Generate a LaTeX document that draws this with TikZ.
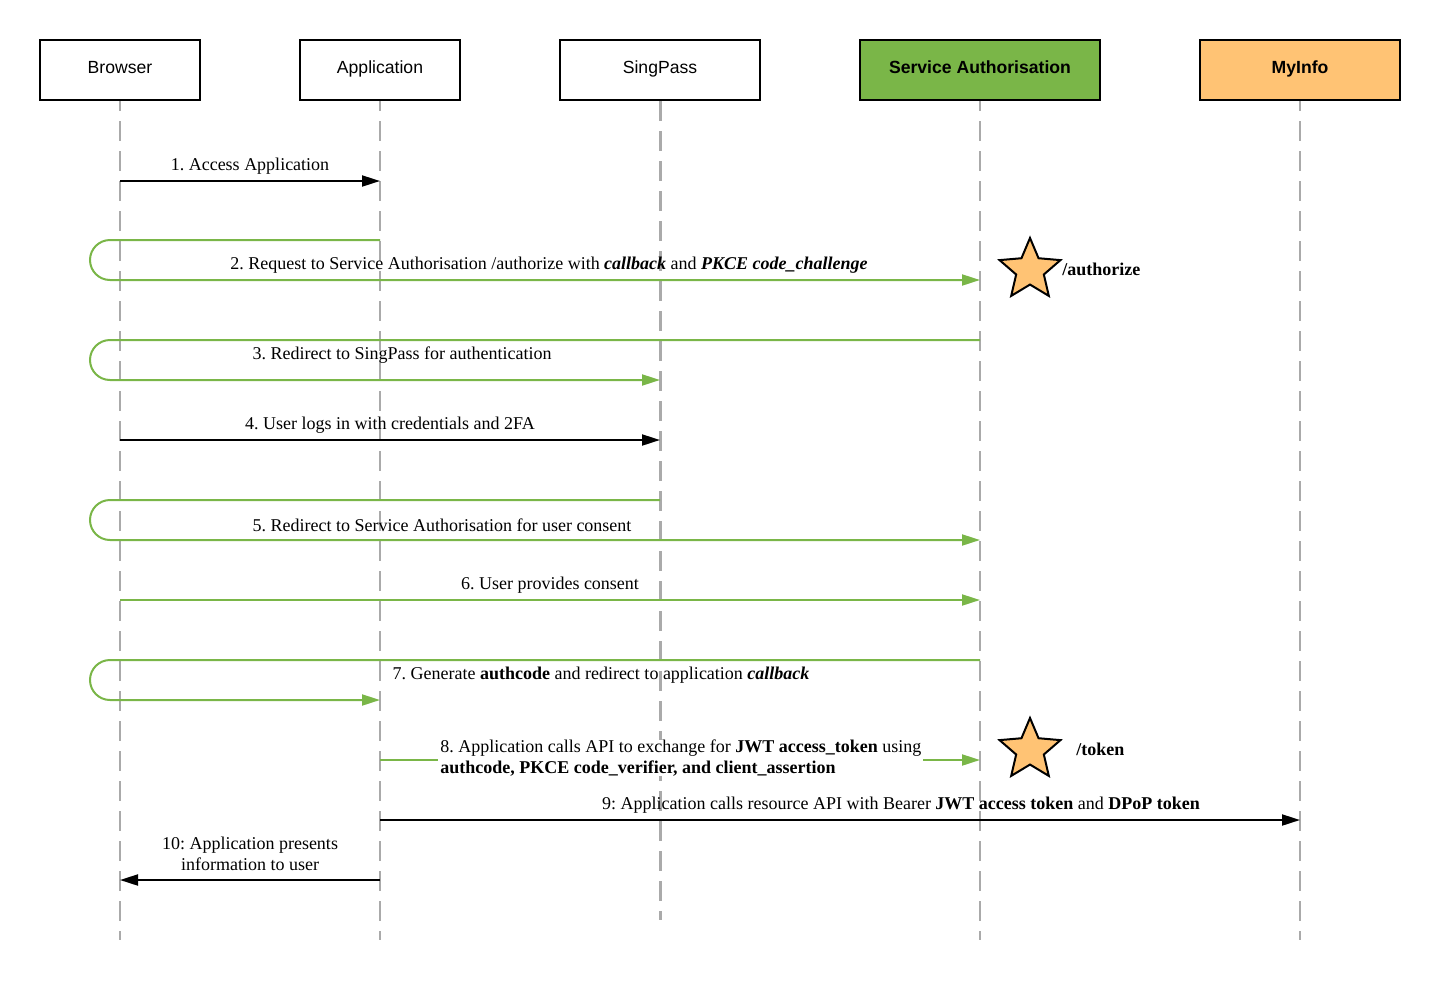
\documentclass[tikz,border=0pt]{standalone}
\usepackage{fontspec}
\setmainfont{Liberation Serif}
\newfontfamily\headfont{Liberation Sans}
\usetikzlibrary{arrows.meta,shapes.geometric}
\definecolor{sagreen}{HTML}{7AB648}
\definecolor{infoorange}{HTML}{FFC374}
\definecolor{lifegray}{HTML}{AAAAAA}
\frenchspacing

\begin{document}
\begin{tikzpicture}[x=0.5pt,y=-0.5pt,
  actor/.style={draw,line width=1pt,minimum height=30pt,inner sep=0pt,text height=5.3pt,text depth=2pt,font=\headfont\fontsize{8.8}{10}\selectfont},
  life/.style={draw=lifegray,line width=1pt,dash pattern=on 10pt off 5pt,dash phase=5pt},
  msg/.style={line width=1pt,-{Triangle[length=9pt,width=5.5pt]}},
  gmsg/.style={msg,sagreen},
  lbl/.style={font=\fontsize{9}{10.5}\selectfont,inner sep=0pt},
  endpt/.style={star,star points=5,star point ratio=2.2,draw,line width=1pt,fill=infoorange,minimum size=32pt,inner sep=0pt},
  endlbl/.style={inner sep=0pt,anchor=west,font=\bfseries\fontsize{9}{10.5}\selectfont}]
\useasboundingbox (0,0) rectangle (1440,980);
%\draw[help lines,step=20] (0,0) grid (1440,980);
\node[actor,minimum width=80pt] (brw) at (120,70) {Browser};
\node[actor,minimum width=80pt] (app) at (380,70) {Application};
\node[actor,minimum width=100pt] (sp) at (660,70) {SingPass};
\node[actor,minimum width=120pt,fill=sagreen,font=\headfont\bfseries\fontsize{8.8}{10}\selectfont] (sa) at (980,70) {Service Authorisation};
\node[actor,minimum width=100pt,fill=infoorange,font=\headfont\bfseries\fontsize{8.8}{10}\selectfont] (mi) at (1300,70) {MyInfo};

\draw[life] (brw.south) -- (brw |- 0,940);
\draw[life] (app.south) -- (app |- 0,940);
\draw[life,line width=1.5pt,dash phase=0pt] (sp.south) -- (sp |- 0,920);
\draw[life] (sa.south) -- (sa |- 0,940);
\draw[life] (mi.south) -- (mi |- 0,940);

\draw[msg] (brw |- 0,181) -- (app |- 0,181);
\node[lbl] at (250,166) {1. Access Application};

\draw[gmsg] (app |- 0,240) -- (110,240) arc[start angle=-90,end angle=-270,radius=20] -- (sa |- 0,280);
\node[lbl] at (549,265) {2. Request to Service Authorisation /authorize with \textbf{\textit{callback}} and \textbf{\textit{PKCE code\_challenge}}};
\node[endpt] (authstar) at (1030,270) {};
\node[endlbl] at (1062,269) {/authorize};

\draw[gmsg] (sa |- 0,340) -- (110,340) arc[start angle=-90,end angle=-270,radius=20] -- (sp |- 0,380);
\node[lbl] at (402,355) {3. Redirect to SingPass for authentication};

\draw[msg] (brw |- 0,440) -- (sp |- 0,440);
\node[lbl] at (390,425) {4. User logs in with credentials and 2FA};

\draw[gmsg] (sp |- 0,500) -- (110,500) arc[start angle=-90,end angle=-270,radius=20] -- (sa |- 0,540);
\node[lbl] at (442,525) {5. Redirect to Service Authorisation for user consent};

\draw[gmsg] (brw |- 0,600) -- (sa |- 0,600);
\node[lbl] at (550,585) {6. User provides consent};

\draw[gmsg] (sa |- 0,660) -- (110,660) arc[start angle=-90,end angle=-270,radius=20] -- (app |- 0,700);
\node[lbl] at (601,675) {7. Generate \textbf{authcode} and redirect to application \textbf{\textit{callback}}};

\draw[gmsg] (app |- 0,760) -- (sa |- 0,760);
\node[lbl,anchor=west,align=left,fill=white,inner xsep=1pt] at (438,758) {8. Application calls API to exchange for \textbf{JWT access\_token} using\\\textbf{authcode, PKCE code\_verifier, and client\_assertion}};
\node[endpt] (tokstar) at (1030,750) {};
\node[endlbl] at (1076,749) {/token};

\draw[msg] (app |- 0,820) -- (mi |- 0,820);
\node[lbl] at (901,805) {9: Application calls resource API with Bearer \textbf{JWT access token} and \textbf{DPoP token}};

\draw[msg] (app |- 0,880) -- (brw |- 0,880);
\node[lbl,align=center] at (250,854) {10: Application presents\\information to user};
\end{tikzpicture}
\end{document}
